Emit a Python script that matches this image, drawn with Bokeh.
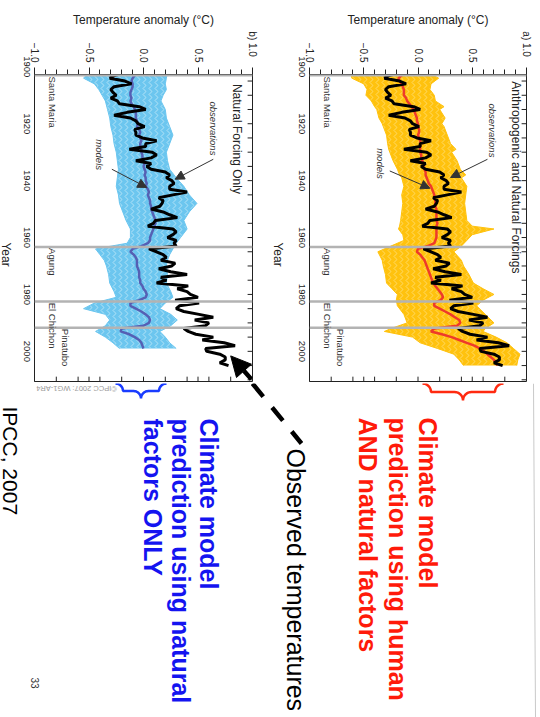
import math
from bokeh.plotting import figure
from bokeh.layouts import row, column
from bokeh.models import Range1d, LinearAxis, FixedTicker, Span, Label, Arrow, NormalHead
from bokeh.embed import file_html
from bokeh.resources import INLINE
from bokeh.core.properties import value

FONT = "Liberation Sans"

# ---------------- data ----------------
years = list(range(1900, 2006))
obs = [-0.03, -0.06, -0.15, -0.26, -0.31, -0.17, -0.11, -0.27, -0.30, -0.28,
       -0.25, -0.30, -0.24, -0.22, -0.04, 0.02, -0.15, -0.27, -0.12, -0.07,
       -0.05, 0.01, -0.08, -0.07, -0.07, -0.01, 0.12, 0.02, 0.02, -0.13,
       0.08, 0.12, 0.07, -0.07, 0.07, 0.03, 0.07, 0.20, 0.24, 0.21,
       0.26, 0.28, 0.24, 0.24, 0.40, 0.27, 0.14, 0.18, 0.17, 0.15,
       0.07, 0.18, 0.24, 0.31, 0.11, 0.09, 0.04, 0.27, 0.30, 0.27,
       0.22, 0.30, 0.28, 0.30, 0.05, 0.12, 0.18, 0.21, 0.16, 0.29,
       0.26, 0.14, 0.25, 0.40, 0.16, 0.21, 0.12, 0.41, 0.31, 0.40,
       0.43, 0.50, 0.29, 0.51, 0.33, 0.30, 0.37, 0.51, 0.64, 0.47,
       0.60, 0.57, 0.37, 0.41, 0.48, 0.64, 0.54, 0.74, 0.84, 0.57,
       0.58, 0.70, 0.75, 0.75, 0.70, 0.78]

mean_all = [-0.12, -0.12, -0.12, -0.15, -0.18, -0.17, -0.15, -0.14, -0.13, -0.13,
            -0.13, -0.11, -0.10, -0.08, -0.06, -0.04, -0.03, -0.02, -0.01, -0.01,
            0.00, 0.00, 0.01, 0.01, 0.00, 0.01, 0.02, 0.02, 0.02, 0.02,
            0.02, 0.03, 0.03, 0.04, 0.05, 0.05, 0.06, 0.07, 0.07, 0.08,
            0.09, 0.10, 0.12, 0.13, 0.14, 0.15, 0.15, 0.16, 0.16, 0.16,
            0.17, 0.17, 0.17, 0.17, 0.17, 0.18, 0.17, 0.17, 0.17, 0.17,
            0.17, 0.16, 0.15, 0.09, 0.00, -0.01, 0.02, 0.04, 0.06, 0.07,
            0.08, 0.09, 0.10, 0.11, 0.12, 0.13, 0.14, 0.16, 0.18, 0.20,
            0.22, 0.23, 0.21, 0.15, 0.15, 0.20, 0.25, 0.30, 0.34, 0.38,
            0.39, 0.36, 0.15, 0.12, 0.22, 0.31, 0.38, 0.45, 0.52, 0.57,
            0.61, 0.64, 0.67, 0.70, 0.72, 0.73]

years_nat = list(range(1900, 2000))
mean_nat = [-0.03, -0.04, -0.05, -0.08, -0.10, -0.11, -0.10, -0.10, -0.11, -0.12,
            -0.12, -0.11, -0.12, -0.11, -0.09, -0.08, -0.07, -0.07, -0.07, -0.06,
            -0.05, -0.06, -0.04, -0.03, -0.04, -0.03, -0.02, -0.03, -0.03, -0.02,
            -0.02, -0.01, -0.01, 0.00, 0.01, 0.00, 0.01, 0.02, 0.01, 0.02,
            0.02, 0.03, 0.02, 0.04, 0.05, 0.04, 0.05, 0.06, 0.06, 0.07,
            0.07, 0.08, 0.09, 0.10, 0.11, 0.11, 0.10, 0.09, 0.08, 0.07,
            0.06, 0.06, 0.04, -0.02, -0.10, -0.12, -0.09, -0.07, -0.06, -0.06,
            -0.06, -0.05, -0.04, -0.04, -0.04, -0.03, -0.03, -0.01, 0.00, 0.02,
            0.03, 0.02, -0.04, -0.12, -0.12, -0.07, -0.02, 0.02, 0.05, 0.06,
            0.05, 0.00, -0.20, -0.21, -0.13, -0.08, -0.04, -0.02, -0.01, 0.00]

env_years_a = [1900, 1902, 1904, 1906, 1908, 1910, 1912, 1914, 1915, 1918, 1920, 1921,
               1924, 1927, 1929, 1930, 1933, 1936, 1938, 1939, 1942, 1945, 1948, 1951,
               1954, 1956, 1957, 1959, 1961, 1963, 1965, 1968, 1970, 1973, 1976, 1978,
               1980, 1982, 1984, 1987, 1990, 1992, 1993, 1995, 1997, 1999, 2001, 2003, 2005]
env_lo_a = [-0.45, -0.62, -0.61, -0.50, -0.47, -0.48, -0.43, -0.40, -0.38, -0.36, -0.33, -0.32,
            -0.29, -0.28, -0.27, -0.26, -0.23, -0.19, -0.17, -0.15, -0.13, -0.15, -0.14, -0.15,
            -0.16, -0.17, -0.18, -0.14, -0.13, -0.25, -0.37, -0.33, -0.32, -0.30, -0.29, -0.24,
            -0.19, -0.20, -0.19, -0.13, -0.10, -0.25, -0.31, -0.05, 0.02, 0.18, 0.33, 0.38, 0.42]
env_hi_a = [0.15, 0.10, 0.19, 0.12, 0.11, 0.15, 0.16, 0.24, 0.20, 0.25, 0.22, 0.24,
            0.27, 0.30, 0.35, 0.31, 0.36, 0.39, 0.44, 0.40, 0.45, 0.44, 0.43, 0.44,
            0.45, 0.50, 0.70, 0.50, 0.45, 0.40, 0.33, 0.40, 0.42, 0.47, 0.51, 0.60,
            0.70, 0.60, 0.54, 0.62, 0.70, 0.62, 0.60, 0.72, 0.82, 0.88, 0.94, 0.92, 0.91]

env_years_b = [1900, 1902, 1904, 1906, 1908, 1910, 1912, 1915, 1918, 1921, 1924, 1927,
               1930, 1933, 1936, 1939, 1942, 1945, 1948, 1951, 1954, 1957, 1960, 1962,
               1964, 1966, 1968, 1970, 1973, 1976, 1979, 1981, 1983, 1985, 1987, 1989,
               1991, 1993, 1995, 1997, 1999]
env_lo_b = [-0.35, -0.50, -0.55, -0.45, -0.41, -0.38, -0.35, -0.33, -0.31, -0.30, -0.28, -0.27,
            -0.25, -0.24, -0.23, -0.24, -0.25, -0.23, -0.22, -0.19, -0.16, -0.12, -0.12, -0.15,
            -0.44, -0.40, -0.36, -0.34, -0.32, -0.31, -0.27, -0.25, -0.45, -0.55, -0.35, -0.31,
            -0.35, -0.44, -0.35, -0.28, -0.22]
env_hi_b = [0.20, 0.22, 0.21, 0.20, 0.21, 0.18, 0.16, 0.20, 0.21, 0.24, 0.27, 0.24,
            0.21, 0.22, 0.24, 0.30, 0.37, 0.42, 0.49, 0.42, 0.37, 0.40, 0.34, 0.30,
            0.27, 0.24, 0.22, 0.21, 0.22, 0.21, 0.25, 0.27, 0.20, 0.15, 0.25, 0.31,
            0.25, 0.15, 0.20, 0.24, 0.30]

volcano_years = [1903.0, 1963.3, 1982.5, 1991.7]
volcano_names = ["Santa Maria", "Agung", "El Chichon", "Pinatubo"]

temp_ticks = [-1.0, -0.5, 0.0, 0.5, 1.0]
temp_tick_labels = ["\u22121.0", "\u22120.5", "0.0", "0.5", "1.0"]
temp_minor = [-0.9, -0.8, -0.7, -0.6, -0.4, -0.3, -0.2, -0.1, 0.1, 0.2, 0.3, 0.4, 0.6, 0.7, 0.8, 0.9]
temp_inner_ticks = [-0.8, -0.6, -0.5, -0.4, -0.2, 0.0, 0.2, 0.4, 0.5, 0.6, 0.8]
year_ticks = [1900, 1920, 1940, 1960, 1980, 2000]
year_inner_ticks = [1905, 1910, 1915, 1920, 1925, 1930, 1935, 1940, 1945, 1950, 1955, 1960,
                    1965, 1970, 1975, 1980, 1985, 1990, 1995, 2000, 2005, 2010]

# page geometry (pixels)
TOP_H = 10                      # strip holding the slide's top rule
ROW_H = 373                     # panels row: y = 10 .. 383
YEAR_TOP, YEAR_BOTTOM = 1902.7, 2010.6
PX_PER_YEAR = 2.855
YEAR_LABEL_SHIFT = 10.6 / PX_PER_YEAR          # half the length of a rotated "1920"
RULE = "#c9c9c9"


def build_panel(width, lb, rb, env_years, env_lo, env_hi, env_color, hatch_color,
                m_years, m_vals, m_color, title, letter, ann):
    p = figure(width=width, height=ROW_H, x_range=Range1d(-1, 1),
               y_range=Range1d(YEAR_BOTTOM, YEAR_TOP),
               output_backend="svg", toolbar_location=None,
               x_axis_location=None, y_axis_location=None,
               min_border_left=lb, min_border_right=rb,
               min_border_top=73 - TOP_H, min_border_bottom=TOP_H + ROW_H - 381)
    p.grid.visible = False
    p.outline_line_color = "#222222"
    p.outline_line_width = 1
    p.background_fill_color = "white"
    p.border_fill_color = "white"
    p.extra_y_ranges = {
        "lbl": Range1d(YEAR_BOTTOM - YEAR_LABEL_SHIFT, YEAR_TOP - YEAR_LABEL_SHIFT),
    }

    labels = list(temp_tick_labels)
    labels[-1] = letter + "   " + labels[-1]
    top = LinearAxis(ticker=FixedTicker(ticks=temp_ticks, minor_ticks=temp_minor),
                     major_label_overrides={t: l for t, l in zip(temp_ticks, labels)},
                     major_label_orientation=-math.pi / 2,
                     major_label_text_font=FONT, major_label_text_font_size="10px",
                     major_label_text_color="#222222",
                     major_tick_out=7, major_tick_in=0, minor_tick_out=5, minor_tick_in=0,
                     major_label_standoff=5,
                     axis_label="Temperature anomaly (\u00b0C)",
                     axis_label_text_font=FONT, axis_label_text_font_size="12px",
                     axis_label_text_font_style="normal", axis_label_text_color="#222222",
                     axis_label_standoff=1, axis_line_color="#222222",
                     major_tick_line_color="#222222", minor_tick_line_color="#222222")
    p.add_layout(top, "above")

    left = LinearAxis(y_range_name="lbl", ticker=FixedTicker(ticks=year_ticks),
                      major_label_orientation=-math.pi / 2,
                      major_label_text_font=FONT, major_label_text_font_size="9.5px",
                      major_label_text_color="#222222",
                      major_tick_out=0, major_tick_in=0, minor_tick_out=0, minor_tick_in=0,
                      major_label_standoff=8, axis_line_color="#222222")
    p.add_layout(left, "left")

    # model ensemble
    p.harea(x1=env_lo, x2=env_hi, y=env_years, fill_color=env_color, fill_alpha=1.0,
            hatch_pattern="vertical_wave", hatch_color=hatch_color, hatch_scale=6,
            hatch_weight=1, hatch_alpha=0.8)
    p.line(env_lo, env_years, line_color=env_color, line_width=1)
    p.line(env_hi, env_years, line_color=env_color, line_width=1)

    for yv in volcano_years:
        p.add_layout(Span(location=yv, dimension="width", line_color="#b3b3b3", line_width=2.5))

    p.line(m_vals, m_years, line_color=m_color, line_width=2.5)
    p.line(obs, years, line_color="black", line_width=3)

    # inward ticks on the two far edges of the frame
    n = len(year_inner_ticks)
    p.segment(x0=[1.0] * n, x1=[1.0 - 0.045] * n, y0=year_inner_ticks, y1=year_inner_ticks,
              line_color="#222222", line_width=1)
    m = len(temp_inner_ticks)
    p.segment(x0=temp_inner_ticks, x1=temp_inner_ticks, y0=[YEAR_BOTTOM] * m,
              y1=[YEAR_BOTTOM - 1.7] * m, line_color="#222222", line_width=1)

    # volcano labels
    xoffs = [ann["vx"], ann["vx"], ann["vx"], ann["vx2"]]
    for yv, nm, xo in zip(volcano_years, volcano_names, xoffs):
        p.add_layout(Label(x=xo, y=yv + 0.4, text=nm, angle=-math.pi / 2,
                           text_font=FONT, text_font_size="9.5px", text_color="#333333",
                           text_align="left", text_baseline="middle"))

    p.add_layout(Label(x=ann["tx"], y=ann["ty"], text=title, angle=-math.pi / 2,
                       text_font=FONT, text_font_size="12px", text_color="#222222",
                       text_align="left", text_baseline="middle"))
    p.add_layout(Label(x=ann["ox"], y=ann["oy"], text="observations", angle=-math.pi / 2,
                       text_font=FONT, text_font_size="9.5px", text_font_style="italic",
                       text_color="#333333", text_align="left", text_baseline="middle"))
    p.add_layout(Label(x=ann["mx"], y=ann["my"], text="models", angle=-math.pi / 2,
                       text_font=FONT, text_font_size="9.5px", text_font_style="italic",
                       text_color="#333333", text_align="left", text_baseline="middle"))
    for (x0, y0, x1, y1) in ann["arrows"]:
        p.add_layout(Arrow(x_start=x0, y_start=y0, x_end=x1, y_end=y1,
                           line_color="#333333", line_width=1,
                           end=NormalHead(size=9, fill_color="#333333", line_color="#333333")))
    return p


def blank(width, height, y_top):
    s = figure(width=width, height=height, x_range=Range1d(0, width),
               y_range=Range1d(y_top + height, y_top),
               output_backend="svg", toolbar_location=None,
               x_axis_location=None, y_axis_location=None,
               min_border_left=0, min_border_right=0, min_border_top=0, min_border_bottom=0)
    s.grid.visible = False
    s.outline_line_color = None
    return s


def year_strip(width, baseline_x):
    s = blank(width, ROW_H, TOP_H)
    s.text(x=[baseline_x], y=[214], text=["Year"], angle=-math.pi / 2,
           text_font=value(FONT), text_font_size="12px", text_color="#222222",
           text_align="left", text_baseline="alphabetic")
    return s


ann_b = dict(vx=-0.835, vx2=-0.715, tx=0.86, ty=1906.0, ox=0.64, oy=1912.2, mx=-0.40, my=1925.5,
             arrows=[(0.64, 1932.5, 0.29, 1939.5), (-0.29, 1936.0, 0.03, 1942.4)])
ann_a = dict(vx=-0.835, vx2=-0.715, tx=0.90, ty=1905.1, ox=0.686, oy=1912.9, mx=-0.35, my=1928.6,
             arrows=[(0.64, 1932.5, 0.30, 1938.9), (-0.26, 1936.6, 0.11, 1942.7)])

# top strip with the slide's rule
top_strip = blank(540, TOP_H, 0)
top_strip.line([0, 530], [9, 9], line_color=RULE, line_width=1)

strip_b = year_strip(15, 5)
fig_b = build_panel(253, 19, 16, env_years_b, env_lo_b, env_hi_b, "#6cc6ef", "#c2e8f9",
                    years_nat, mean_nat, "#5560b4", "Natural Forcing Only", "b)", ann_b)
strip_a = year_strip(22, 9)
fig_a = build_panel(250, 19, 14, env_years_a, env_lo_a, env_hi_a, "#ffc20e", "#ffe07a",
                    years, mean_all, "#ee3a2a", "Anthropogenic and Natural Forcings", "a)", ann_a)

# big dashed arrow: head part inside panel b
fig_b.add_layout(Arrow(x_start=0.99, y_start=2009.8, x_end=0.80, y_end=2001.6,
                       line_color="black", line_width=4.5, line_dash="12 8",
                       end=NormalHead(size=20, fill_color="black", line_color="black")))

# ---------------- lower slide area ----------------
FB_TOP = TOP_H + ROW_H
fb = blank(540, 717 - FB_TOP, FB_TOP)
fb.line([533, 535], [FB_TOP, 717], line_color=RULE, line_width=1)


def brace(x0, x1, yt, yb):
    xm = (x0 + x1) / 2.0
    r = (yb - yt) / 2.0
    xs, ys = [], []
    k = 8
    for i in range(k + 1):
        a = math.pi / 2 * i / k
        xs.append(x0 + r * math.sin(a)); ys.append(yt + r * (1 - math.cos(a)))
    for i in range(k + 1):
        a = math.pi / 2 * i / k
        xs.append(xm - r + r * math.sin(a)); ys.append(yt + r + r * (1 - math.cos(a)))
    for i in range(k, -1, -1):
        a = math.pi / 2 * i / k
        xs.append(xm + r - r * math.sin(a)); ys.append(yt + r + r * (1 - math.cos(a)))
    for i in range(k, -1, -1):
        a = math.pi / 2 * i / k
        xs.append(x1 - r * math.sin(a)); ys.append(yt + r * (1 - math.cos(a)))
    return xs, ys


bx, by = brace(422, 503, 383, 400)
fb.line(bx, by, line_color="#ff2a10", line_width=2.5)
bx, by = brace(115, 166, 383, 398)
fb.line(bx, by, line_color="#1a3cff", line_width=2.5)

# dashed arrow continuation
fb.line([252, 301], [383, 443], line_color="black", line_width=4.5, line_dash="17 14")

fb.text(x=[76], y=[388], text=["\u00a9IPCC 2007: WG1-AR4"], angle=math.pi,
        text_font=value(FONT), text_font_size="7.5px", text_color="#9a9a9a",
        text_align="center", text_baseline="middle")

red_lines = ["Climate model", "prediction using human", "AND natural factors"]
blue_lines = ["Climate model", "prediction using natural", "factors ONLY"]
fb.text(x=[427, 397, 367], y=[417, 417, 417], text=red_lines, angle=-math.pi / 2,
        text_font=value(FONT), text_font_size="25px", text_font_style="bold",
        text_color="#ff1a0a", text_align="left", text_baseline="alphabetic")
fb.text(x=[208, 180, 152], y=[418, 418, 418], text=blue_lines, angle=-math.pi / 2,
        text_font=value(FONT), text_font_size="25px", text_font_style="bold",
        text_color="#1414f0", text_align="left", text_baseline="alphabetic")
fb.text(x=[295], y=[448], text=["Observed temperatures"], angle=-math.pi / 2,
        text_font=value(FONT), text_font_size="25px", text_color="black",
        text_align="left", text_baseline="alphabetic")
fb.text(x=[10], y=[406], text=["IPCC, 2007"], angle=-math.pi / 2,
        text_font=value(FONT), text_font_size="21px", text_color="black",
        text_align="left", text_baseline="alphabetic")
fb.text(x=[34], y=[677], text=["33"], angle=-math.pi / 2,
        text_font=value(FONT), text_font_size="10px", text_color="#333333",
        text_align="left", text_baseline="alphabetic")

layout = column(top_strip, row(strip_b, fig_b, strip_a, fig_a, spacing=0), fb, spacing=0)

with open("out.html", "w") as f:
    f.write(file_html(layout, INLINE))
